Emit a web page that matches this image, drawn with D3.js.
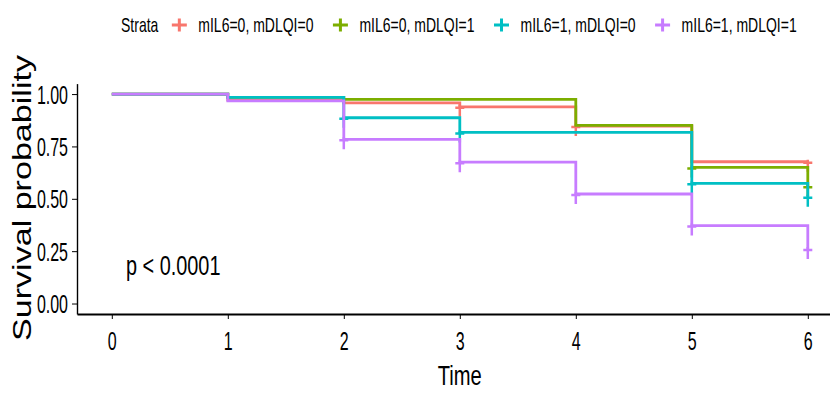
<!DOCTYPE html>
<html>
<head>
<meta charset="utf-8">
<script src="https://cdn.jsdelivr.net/npm/d3@7"></script>
<style>
  body { margin: 0; background: #fff; }
  svg { display: block; }
  text { font-family: "Liberation Sans", Arial, sans-serif; fill: #000; }
</style>
</head>
<body>
<svg width="830" height="393"></svg>
<script>
// ---- data ----
var times = [0, 1, 2, 3, 4, 5, 6];
var strata = ["mIL6=0, mDLQI=0", "mIL6=0, mDLQI=1", "mIL6=1, mDLQI=0", "mIL6=1, mDLQI=1"];
var colors = ["#F8766D", "#7CAE00", "#00BFC4", "#C77CFF"];

// survival at each time (step after)
var surv00 = [1, 0.972, 0.958, 0.939, 0.847, 0.677, 0.677];
var surv01 = [1, 0.984, 0.975, 0.975, 0.851, 0.650, 0.560];
var surv10 = [1, 0.984, 0.887, 0.817, 0.817, 0.574, 0.510];
var surv11 = [1, 0.968, 0.784, 0.675, 0.523, 0.372, 0.260];

// censoring times (the "+" marks)
var cens00 = [3, 4, 6];
var cens01 = [5, 6];
var cens10 = [2, 3, 5, 6];
var cens11 = [2, 3, 4, 5, 6];

var xTicks = [0, 1, 2, 3, 4, 5, 6];
var yTicks = [0, 0.25, 0.5, 0.75, 1];

var series = [
  {name: strata[0], color: colors[0], surv: surv00, cens: cens00},
  {name: strata[1], color: colors[1], surv: surv01, cens: cens01},
  {name: strata[2], color: colors[2], surv: surv10, cens: cens10},
  {name: strata[3], color: colors[3], surv: surv11, cens: cens11}
];

var svg = d3.select("svg");

var x = d3.scaleLinear().domain([-0.3, 6.3]).range([77, 77 + 6.6 * 116]);
var y = d3.scaleLinear().domain([-0.05, 1.05]).range([314, 83.6]);

// squeeze text horizontally like the reference
function sq(sel, dx, dy, sx) {
  sel.attr("transform", "translate(" + dx + "," + dy + ") scale(" + sx + ",1)");
}

////////////////
// curves
////////////////
var line = d3.line()
  .x(function(d) { return x(d[0]); })
  .y(function(d) { return y(d[1]); })
  .curve(d3.curveStepAfter);

var g = svg.append("g");

series.forEach(function(s) {
  var pts = times.map(function(t, i) { return [t, s.surv[i]]; });
  g.append("path")
    .datum(pts)
    .attr("d", line)
    .attr("fill", "none")
    .attr("stroke", s.color)
    .attr("stroke-width", 2.8);

  g.selectAll(null)
    .data(s.cens)
    .enter()
    .append("path")
    .attr("transform", function(t) {
      return "translate(" + x(t) + "," + y(s.surv[times.indexOf(t)]) + ")";
    })
    .attr("d", "M-4.5,1H4.5M0,-2V10")
    .attr("fill", "none")
    .attr("stroke", s.color)
    .attr("stroke-width", 2.5);
});

////////////////
// axes
////////////////
var xAxis = svg.append("g")
  .attr("transform", "translate(0," + y(-0.05) + ")")
  .call(d3.axisBottom(x).tickValues(xTicks).tickSize(5).tickSizeOuter(0).tickFormat(d3.format("d")));
xAxis.select(".domain").attr("stroke", "#000").attr("stroke-width", 1.8);
xAxis.selectAll(".tick line").attr("stroke", "#000");
xAxis.selectAll(".tick text")
  .attr("y", null).attr("dy", null)
  .attr("text-anchor", "middle")
  .style("font-size", "25px")
  .call(sq, 0, 36, 0.64);

var yAxis = svg.append("g")
  .attr("transform", "translate(" + x(-0.3) + ",0)")
  .call(d3.axisLeft(y).tickValues(yTicks).tickSize(5).tickSizeOuter(0).tickFormat(d3.format(".2f")));
yAxis.select(".domain").attr("stroke", "#000").attr("stroke-width", 1.4);
yAxis.selectAll(".tick line").attr("stroke", "#000");
yAxis.selectAll(".tick text")
  .attr("x", null).attr("dy", null)
  .attr("text-anchor", "end")
  .style("font-size", "25px")
  .call(sq, -9, 9, 0.64);

// axis titles
svg.append("text")
  .attr("text-anchor", "middle")
  .style("font-size", "28px")
  .text("Time")
  .call(sq, x(3), 385, 0.72);

svg.append("text")
  .attr("text-anchor", "middle")
  .attr("transform", "translate(31,198) rotate(-90)")
  .attr("textLength", 286)
  .attr("lengthAdjust", "spacingAndGlyphs")
  .style("font-size", "26px")
  .text("Survival probability");

// p value
svg.append("text")
  .style("font-size", "28px")
  .text("p < 0.0001")
  .call(sq, 126, 275, 0.71);

////////////////
// legend
////////////////
var legend = svg.append("g");
var lx = 121;
var t0 = legend.append("text")
  .style("font-size", "20px")
  .text("Strata")
  .call(sq, lx, 32, 0.7);
lx += t0.node().getComputedTextLength() * 0.7 + 21;

series.forEach(function(s) {
  legend.append("path")
    .attr("transform", "translate(" + lx + ",25)")
    .attr("d", "M-7.5,0H7.5M0,-6.5V6.5")
    .attr("fill", "none")
    .attr("stroke", s.color)
    .attr("stroke-width", 3);
  var t = legend.append("text")
    .style("font-size", "20px")
    .text(s.name)
    .call(sq, lx + 19, 32, 0.7);
  lx += 19 + t.node().getComputedTextLength() * 0.7 + 27;
});
</script>
</body>
</html>
